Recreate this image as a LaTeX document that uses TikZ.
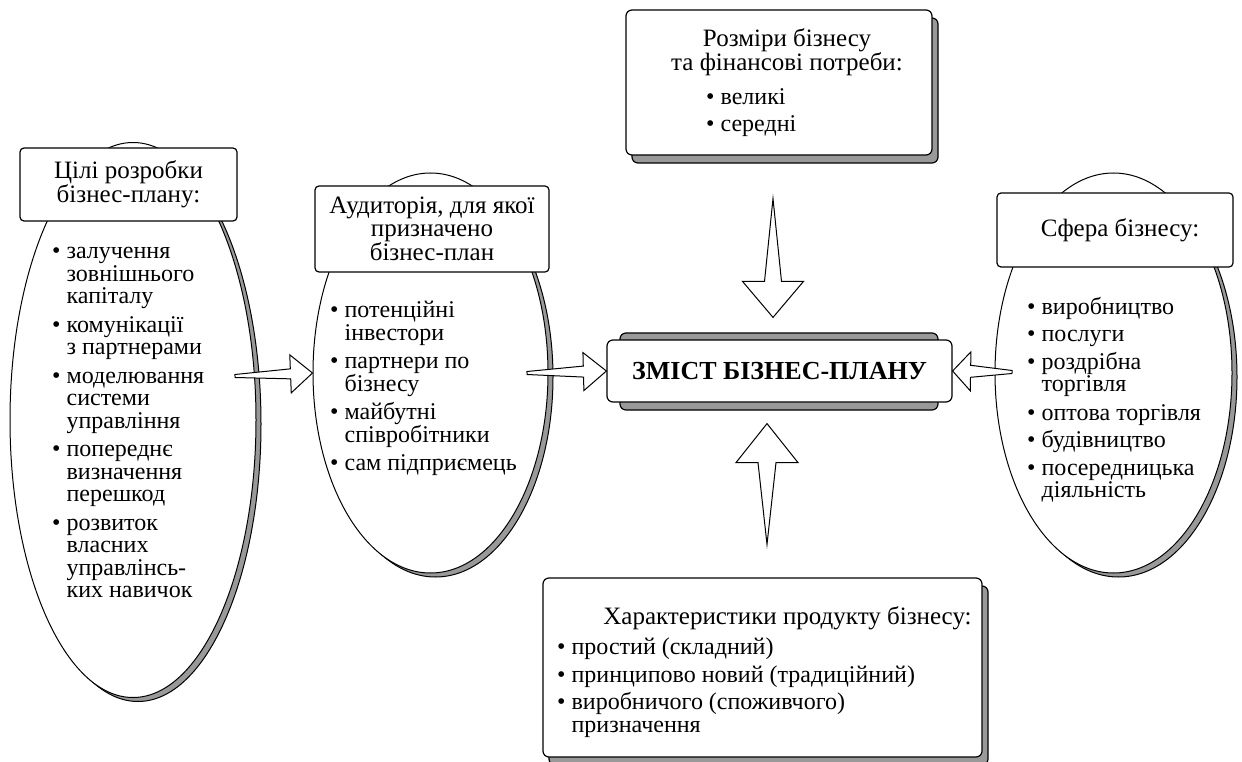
\documentclass[tikz,border=0pt]{standalone}
\usepackage{fontspec}
\setmainfont{Liberation Serif}
\usetikzlibrary{shapes.geometric,shadows,calc}

\tikzset{
  oval/.style={ellipse, draw, fill=white, line width=1pt, inner sep=0pt,
    copy shadow={fill=gray!80, draw=black, shadow xshift=5pt, shadow yshift=-4pt}},
  ovalhead/.style={rectangle, rounded corners=4pt, draw, fill=white, line width=1.2pt,
    align=center, inner sep=0pt, font=\fontsize{25}{23}\selectfont},
  panel/.style={rectangle, rounded corners=6pt, draw, fill=white, line width=1.2pt,
    inner sep=0pt, copy shadow={fill=gray!80, draw=black, shadow xshift=6pt, shadow yshift=-8pt}},
  itemlist/.style={align=left, inner sep=0pt, anchor=north west, font=\fontsize{24}{22.5}\selectfont},
  title/.style={align=center, inner sep=0pt, font=\fontsize{25}{23}\selectfont},
  blockarr/.style={draw, fill=white, line width=1pt, line join=miter},
}

% continuation line of a bulleted item
\newcommand{\ind}{\phantom{•}\ }

% fat arrow: #1 tail, #2 tip, #3 head length, #4 head half width, #5 shaft half width, #6 tail half width
\newcommand{\fatarrow}[6]{%
  \coordinate (hb) at ($(#2)!#3!(#1)$);
  \draw[blockarr] ($(#1)!#6!90:(#2)$) -- ($(hb)!#5!90:(#2)$) -- ($(hb)!#4!90:(#2)$) -- (#2)
    -- ($(hb)!#4!-90:(#2)$) -- ($(hb)!#5!-90:(#2)$) -- ($(#1)!#6!-90:(#2)$) -- cycle;
}

\begin{document}
\begin{tikzpicture}[x=1pt, y=-1pt]
  \useasboundingbox (0,0) rectangle (1242,762);

  %% ════ ovals ════
  \node[oval, minimum width=246pt, minimum height=555pt] (goalsoval) at (133,420) {};
  \node[ovalhead, minimum width=217pt, minimum height=73pt] (goalshead) at (128.5,184.5)
    {Цілі розробки\\бізнес-плану:};
  \node[itemlist] (goalslist) at (52,247)
    {• залучення\\\ind зовнішнього\\\ind капіталу\\[6pt]
     • комунікації\\\ind з партнерами\\[6pt]
     • моделювання\\\ind системи\\\ind управління\\[6pt]
     • попереднє\\\ind визначення\\\ind перешкод\\[6pt]
     • розвиток\\\ind власних\\\ind управлінсь-\\\ind ких навичок};

  \node[oval, minimum width=235pt, minimum height=400pt] (audoval) at (430.5,373) {};
  \node[ovalhead, minimum width=234pt, minimum height=86pt] (audhead) at (432,229)
    {Аудиторія, для якої\\призначено\\бізнес-план};
  \node[itemlist] (audlist) at (330,301)
    {• потенційні\\\ind інвестори\\[6pt]
     • партнери по\\\ind бізнесу\\[6pt]
     • майбутні\\\ind співробітники\\[6pt]
     • сам підприємець};

  \node[oval, minimum width=237pt, minimum height=400pt] (sphereoval) at (1113.5,373) {};
  \node[ovalhead, minimum width=236pt, minimum height=74pt] (spherehead) at (1115,230)
    {\hspace*{10pt}Сфера бізнесу:};
  \node[itemlist] (spherelist) at (1027,297)
    {• виробництво\\[5pt]
     • послуги\\[5pt]
     • роздрібна\\\ind торгівля\\[6pt]
     • оптова торгівля\\[5pt]
     • будівництво\\[5pt]
     • посередницька\\\ind діяльність};

  %% ════ centre ════
  \node[rectangle, rounded corners=6pt, draw, fill=gray!80, line width=1.2pt,
    minimum width=318pt, minimum height=77pt] (contentback) at (779,371.5) {};
  \node[rectangle, rounded corners=6pt, draw, fill=white, line width=1.2pt,
    minimum width=345pt, minimum height=62pt, font=\fontsize{26}{26}\selectfont\bfseries]
    (content) at (779.5,371) {ЗМІСТ БІЗНЕС-ПЛАНУ};

  %% ════ top and bottom panels ════
  \node[panel, minimum width=306pt, minimum height=145pt] (sizebox) at (779,82.5) {};
  \node[title] (sizetitle) at (787,52) {Розміри бізнесу\\та фінансові потреби:};
  \node[itemlist] (sizelist) at (706,88) {• великі\\[5pt]• середні};

  \node[panel, minimum width=439pt, minimum height=179pt] (prodbox) at (762.5,667.5) {};
  \node[title] (prodtitle) at (787.5,618) {Характеристики продукту бізнесу:};
  \node[itemlist] (prodlist) at (557,638)
    {• простий (складний)\\[5pt]
     • принципово новий (традиційний)\\[5pt]
     • виробничого (споживчого)\\\ind призначення};

  %% ════ arrows ════
  \coordinate (goalstail) at ($(goalsoval.center)+(102,-44)$);
  \coordinate (audtail) at ($(audoval.center)+(96.5,0)$);
  \coordinate (spheretail) at ($(sphereoval.center)+(-101.5,-1)$);
  \coordinate (sizetail) at ($(sizebox.south)+(-6,43)$);
  \coordinate (sizetip) at ($(contentback.north)+(-6,-15)$);
  \coordinate (prodtail) at ($(prodbox.north)+(4.5,-33)$);
  \coordinate (prodtip) at ($(contentback.south)+(-12,13)$);

  \fatarrow{goalstail}{audoval.west}{22pt}{19pt}{5pt}{1.5pt}
  \fatarrow{audtail}{content.west}{23pt}{19pt}{5.5pt}{1.5pt}
  \fatarrow{spheretail}{content.east}{18pt}{19.5pt}{6pt}{1.5pt}
  \fatarrow{sizetail}{sizetip}{36pt}{30.5pt}{8.5pt}{0pt}
  \fatarrow{prodtail}{prodtip}{39pt}{31pt}{9pt}{0pt}
\end{tikzpicture}
\end{document}
